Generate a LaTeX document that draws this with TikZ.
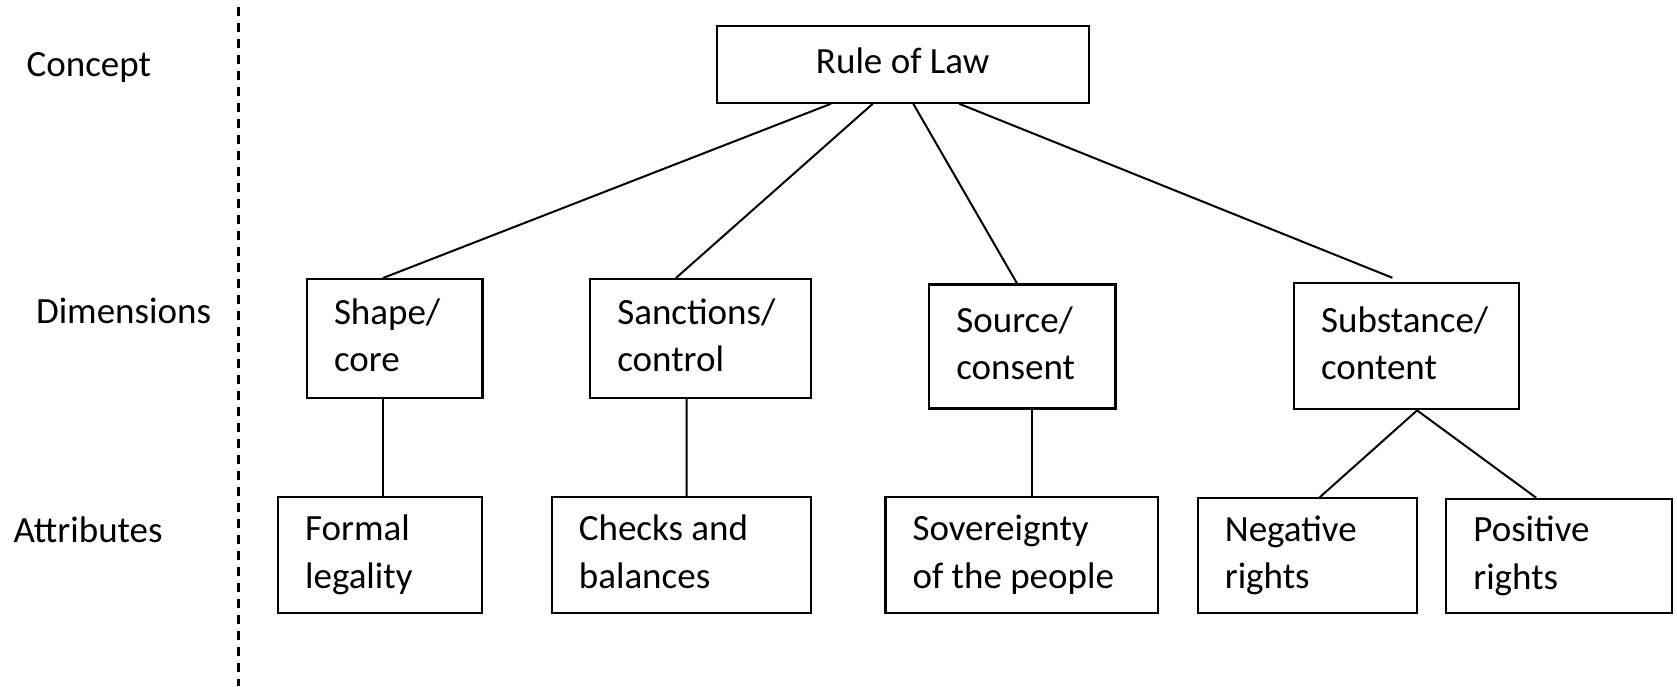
\documentclass[tikz,border=0pt]{standalone}
\usepackage{fontspec}
\setmainfont{Carlito}
\hyphenpenalty=10000
\exhyphenpenalty=10000

\begin{document}
\begin{tikzpicture}[x=0.5pt,y=-0.5pt,line width=1pt,
  txt/.style={font=\fontsize{18.5}{23.75}\selectfont},
  box/.style={draw,rectangle,txt,line width=1.1pt,inner xsep=13.5pt,align=flush left,
    execute at begin node=\strut,execute at end node=\strut},
  lvl/.style={txt,anchor=base west,inner sep=0pt}]
\useasboundingbox (0,0) rectangle (1677,686);

% levels
\node[lvl] (concept) at (25.7,76.6) {Concept};
\node[lvl] (dims) at (35,323.7) {Dimensions};
\node[lvl] (attrs) at (12.5,542.5) {Attributes};
\draw[line width=1.4pt,dash pattern=on 4.5pt off 3.5pt] (238.5,6.7) -- (238.5,686);

% concept
\node[box,align=center,inner xsep=0pt,minimum width=186pt,minimum height=38.5pt] (rol) at (902.7,64.2) {Rule of Law};

% dimensions
\node[box,minimum width=87.7pt,text width=60.7pt,minimum height=59.35pt] (shape) at (394.7,338.5) {Shape/\\core};
\node[box,minimum width=110.15pt,text width=83.15pt,minimum height=59.35pt] (sanct) at (700.5,338.5) {Sanctions/\\control};
\node[box,minimum width=93.05pt,text width=66.05pt,minimum height=62pt] (source) at (1022.4,346.5) {Source/\\consent};
\node[box,minimum width=112.3pt,text width=85.3pt,minimum height=63pt] (subst) at (1406.4,346.3) {Substance/\\content};

% attributes
\node[box,minimum width=102.1pt,text width=75.1pt,minimum height=57.75pt] (formal) at (380.2,555) {Formal\\legality};
\node[box,minimum width=129.4pt,text width=102.4pt,minimum height=57.75pt] (checks) at (681.3,555) {Checks and\\balances};
\node[box,minimum width=136.35pt,text width=109.35pt,minimum height=57.75pt] (sover) at (1021.9,555) {Sovereignty\\of the people};
\node[box,minimum width=109.65pt,text width=82.65pt,minimum height=57.2pt] (neg) at (1307.5,555.5) {Negative\\rights};
\node[box,minimum width=112.85pt,text width=85.85pt,minimum height=57.2pt] (pos) at (1559.2,556.1) {Positive\\rights};

\draw ([xshift=-35.9pt]rol.south) -- ([xshift=-5.9pt]shape.north);
\draw ([xshift=-15pt]rol.south) -- ([xshift=-12.3pt]sanct.north);
\draw ([xshift=5.3pt]rol.south) -- ([xshift=-2.7pt]source.north);
\draw ([xshift=28.3pt]rol.south) -- ([xshift=-7pt,yshift=2.2pt]subst.north);
\draw ([xshift=-5.9pt]shape.south) -- ([xshift=1.35pt]formal.north);
\draw ([xshift=-7pt]sanct.south) -- ([xshift=2.65pt]checks.north);
\draw ([xshift=4.85pt]source.south) -- ([xshift=5.1pt]sover.north);
\draw ([xshift=5.35pt]subst.south) -- ([xshift=6.15pt]neg.north);
\draw ([xshift=5.35pt]subst.south) -- ([xshift=-11.5pt]pos.north);
\end{tikzpicture}
\end{document}
